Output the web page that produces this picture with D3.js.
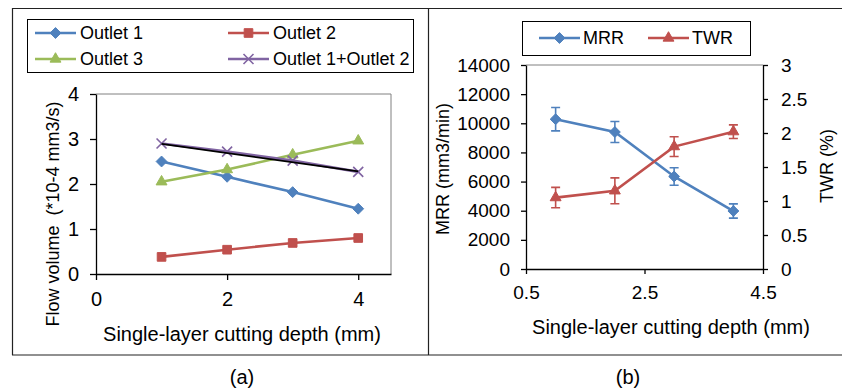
<!DOCTYPE html>
<html>
<head>
<meta charset="utf-8">
<script src="https://cdn.jsdelivr.net/npm/d3@7"></script>
<style>
  body { margin: 0; background: #fff; }
  svg { font-family: 'Liberation Sans', Arial, sans-serif; }
  text { white-space: pre; }
</style>
</head>
<body>
<div class="container"></div>
<script>
// panel (a): flow volume per outlet
const depth = [1, 2, 3, 4];
const outlet1 = [2.50, 2.16, 1.82, 1.45];
const outlet2 = [0.38, 0.54, 0.69, 0.80];
const outlet3 = [2.05, 2.32, 2.65, 2.96];
const outlet12 = [2.90, 2.72, 2.52, 2.27];
const trendX = [1, 4];
const trend12 = [2.89, 2.28];
const flowTicksX = [0, 2, 4];
const flowTicksY = [0, 1, 2, 3, 4];

// panel (b): MRR / TWR with error bars
const mrr = [10280, 9400, 6350, 3980];
const mrrErr = [800, 720, 600, 490];
const twr = [1.05, 1.15, 1.80, 2.02];
const twrErr = [0.15, 0.19, 0.145, 0.10];
const bTicksX = [0.5, 2.5, 4.5];
const mrrTicks = [0, 2000, 4000, 6000, 8000, 10000, 12000, 14000];
const twrTicks = [0, 0.5, 1, 1.5, 2, 2.5, 3];

const blue = '#4f81bd';
const red = '#c0504d';
const green = '#9bbb59';
const purple = '#8064a2';

const width = 842;
const height = 390;

const svg = d3.select('.container').append('svg').attr('width', width).attr('height', height);

// outer frame
const frame = svg.append('g').attr('class', 'frame').attr('stroke', '#222').attr('stroke-width', 1.2);
frame.append('line').attr('x1', 12).attr('x2', 842).attr('y1', 8.5).attr('y2', 8.5);
frame.append('line').attr('x1', 12).attr('x2', 842).attr('y1', 355).attr('y2', 355);
frame.append('line').attr('x1', 12.5).attr('x2', 12.5).attr('y1', 8).attr('y2', 355);
frame.append('line').attr('x1', 428.5).attr('x2', 428.5).attr('y1', 8).attr('y2', 355);

const marker = (g, type, color, x, y) => {
  if (type === 'x') {
    g.append('path')
      .attr('d', `M${x - 5},${y - 5}L${x + 5},${y + 5}M${x - 5},${y + 5}L${x + 5},${y - 5}`)
      .attr('stroke', color).attr('stroke-width', 1.6).attr('fill', 'none');
  } else {
    const sym = { diamond: d3.symbolDiamond2, square: d3.symbolSquare2, triangle: d3.symbolTriangle2 }[type];
    const size = { diamond: 75, square: 95, triangle: 85 }[type];
    g.append('path')
      .attr('d', d3.symbol().type(sym).size(size)())
      .attr('transform', `translate(${x},${y})`)
      .attr('fill', color).attr('stroke', color).attr('stroke-width', 1);
  }
};

const styleAxis = g => {
  g.selectAll('path.domain').attr('stroke', '#000').attr('stroke-width', 1.3);
  g.selectAll('.tick line').attr('stroke', '#000').attr('stroke-width', 1.3);
  g.selectAll('.tick text').attr('fill', '#000').attr('font-size', 19).attr('font-family', null);
};

// ---------- panel (a)
const aLeft = 96, aRight = 391, aTop = 94, aBottom = 274;
const xA = d3.scaleLinear().domain([0, 4.5]).range([aLeft, aRight]);
const yA = d3.scaleLinear().domain([0, 4]).range([aBottom, aTop]);

const chartA = svg.append('g').attr('class', 'chart-a');
chartA.append('path')
  .attr('d', `M${aLeft},${aTop}H${aRight}V${aBottom}`)
  .attr('fill', 'none').attr('stroke', '#808080').attr('stroke-width', 1);

const axA = chartA.append('g');
axA.append('g').attr('transform', `translate(0,${aBottom})`)
  .call(d3.axisBottom(xA).tickValues(flowTicksX).tickFormat(d => d).tickSize(6).tickPadding(12).tickSizeOuter(0))
  .call(styleAxis);
axA.append('g').attr('transform', `translate(${aLeft},0)`)
  .call(d3.axisLeft(yA).tickValues(flowTicksY).tickFormat(d => d).tickSize(6).tickPadding(11).tickSizeOuter(0))
  .call(styleAxis);
axA.selectAll('.tick text').attr('font-size', 20);

const seriesA = [
  { name: 'Outlet 1', values: outlet1, color: blue, type: 'diamond' },
  { name: 'Outlet 2', values: outlet2, color: red, type: 'square' },
  { name: 'Outlet 3', values: outlet3, color: green, type: 'triangle' },
  { name: 'Outlet 1+Outlet 2', values: outlet12, color: purple, type: 'x' }
];

const lineA = d3.line().x(d => xA(d.x)).y(d => yA(d.y));
const linesA = chartA.append('g').attr('class', 'lines');
seriesA.forEach(s => {
  const pts = depth.map((x, i) => ({ x, y: s.values[i] }));
  linesA.append('path').attr('d', lineA(pts)).attr('fill', 'none')
    .attr('stroke', s.color).attr('stroke-width', 2.6);
  pts.forEach(p => marker(linesA, s.type, s.color, xA(p.x), yA(p.y)));
});
// trendline over the summed series
linesA.append('path')
  .attr('d', lineA(trendX.map((x, i) => ({ x, y: trend12[i] }))))
  .attr('fill', 'none').attr('stroke', '#000').attr('stroke-width', 1.8);

chartA.append('text').text('Single-layer cutting depth (mm)')
  .attr('x', 242).attr('y', 341).attr('text-anchor', 'middle').attr('font-size', 20);
chartA.append('text').text('Flow volume  (*10-4 mm3/s)')
  .attr('transform', 'translate(59,214) rotate(-90)').attr('text-anchor', 'middle').attr('font-size', 18);

// legend (a)
const legA = chartA.append('g').attr('class', 'legend');
legA.append('rect').attr('x', 27.5).attr('y', 19.5).attr('width', 386).attr('height', 53)
  .attr('fill', '#fff').attr('stroke', '#000').attr('stroke-width', 1);
const legPos = [[35, 33], [228, 33], [35, 59], [228, 59]];
seriesA.forEach((s, i) => {
  const [lx, ly] = legPos[i];
  legA.append('line').attr('x1', lx).attr('x2', lx + 41).attr('y1', ly).attr('y2', ly)
    .attr('stroke', s.color).attr('stroke-width', 2.6);
  marker(legA, s.type, s.color, lx + 20.5, ly);
  legA.append('text').text(s.name).attr('x', lx + 45).attr('y', ly).attr('dy', '0.35em').attr('font-size', 18);
});

// ---------- panel (b)
const bLeft = 526, bRight = 763, bTop = 65, bBottom = 269;
const xB = d3.scaleLinear().domain([0.5, 4.5]).range([bLeft, bRight]);
const yMrr = d3.scaleLinear().domain([0, 14000]).range([bBottom, bTop]);
const yTwr = d3.scaleLinear().domain([0, 3]).range([bBottom, bTop]);

const chartB = svg.append('g').attr('class', 'chart-b');
chartB.append('line').attr('x1', bLeft).attr('x2', bRight).attr('y1', bTop).attr('y2', bTop)
  .attr('stroke', '#808080').attr('stroke-width', 1);

chartB.append('g').attr('transform', `translate(0,${bBottom})`)
  .call(d3.axisBottom(xB).tickValues(bTicksX).tickFormat(d => d).tickSize(5).tickPadding(12).tickSizeOuter(0))
  .call(styleAxis);
chartB.append('g').attr('transform', `translate(${bLeft},0)`)
  .call(d3.axisLeft(yMrr).tickValues(mrrTicks).tickFormat(d => d).tickSize(5).tickPadding(11).tickSizeOuter(0))
  .call(styleAxis);
chartB.append('g').attr('transform', `translate(${bRight},0)`)
  .call(d3.axisRight(yTwr).tickValues(twrTicks).tickFormat(d => d).tickSize(5).tickPadding(13).tickSizeOuter(0))
  .call(styleAxis);

const seriesB = [
  { name: 'MRR', values: mrr, err: mrrErr, y: yMrr, color: blue, type: 'diamond' },
  { name: 'TWR', values: twr, err: twrErr, y: yTwr, color: red, type: 'triangle' }
];

const linesB = chartB.append('g').attr('class', 'lines');
seriesB.forEach(s => {
  const pts = depth.map((x, i) => ({ x, y: s.values[i], e: s.err[i] }));
  const line = d3.line().x(d => xB(d.x)).y(d => s.y(d.y));
  linesB.append('path').attr('d', line(pts)).attr('fill', 'none')
    .attr('stroke', s.color).attr('stroke-width', 2.6);
  pts.forEach(p => {
    const cx = xB(p.x);
    const y1 = s.y(p.y + p.e);
    const y0 = s.y(p.y - p.e);
    linesB.append('path')
      .attr('d', `M${cx},${y1}V${y0}M${cx - 4.5},${y1}H${cx + 4.5}M${cx - 4.5},${y0}H${cx + 4.5}`)
      .attr('stroke', s.color).attr('stroke-width', 1.6).attr('fill', 'none');
    marker(linesB, s.type, s.color, cx, s.y(p.y));
  });
});

chartB.append('text').text('Single-layer cutting depth (mm)')
  .attr('x', 671).attr('y', 334).attr('text-anchor', 'middle').attr('font-size', 20);
chartB.append('text').text('MRR (mm3/min)')
  .attr('transform', 'translate(449,169) rotate(-90)').attr('text-anchor', 'middle').attr('font-size', 18);
chartB.append('text').text('TWR (%)')
  .attr('transform', 'translate(833,166) rotate(-90)').attr('text-anchor', 'middle').attr('font-size', 18);

// legend (b)
const legB = chartB.append('g').attr('class', 'legend');
legB.append('rect').attr('x', 522.5).attr('y', 21.5).attr('width', 228).attr('height', 34)
  .attr('fill', '#fff').attr('stroke', '#000').attr('stroke-width', 1);
const legPosB = [[539, 38], [648, 38]];
seriesB.forEach((s, i) => {
  const [lx, ly] = legPosB[i];
  legB.append('line').attr('x1', lx).attr('x2', lx + 41).attr('y1', ly).attr('y2', ly)
    .attr('stroke', s.color).attr('stroke-width', 2.6);
  marker(legB, s.type, s.color, lx + 20.5, ly);
  legB.append('text').text(s.name).attr('x', lx + 44).attr('y', ly).attr('dy', '0.35em').attr('font-size', 18);
});

// captions
svg.append('text').text('(a)').attr('x', 242).attr('y', 384).attr('text-anchor', 'middle').attr('font-size', 20);
svg.append('text').text('(b)').attr('x', 628).attr('y', 384).attr('text-anchor', 'middle').attr('font-size', 20);
</script>
</body>
</html>
